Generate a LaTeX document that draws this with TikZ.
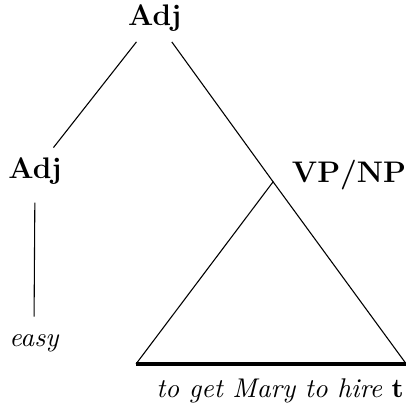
\documentclass[tikz,border=0pt]{standalone}
\usetikzlibrary{positioning}
\tikzset{
cat/.style={font=\fontsize{11}{13}\selectfont\bfseries, inner sep=3.5pt}, % category labels of the tree
word/.style={font=\itshape, inner sep=2pt}, % words at the leaves
branch/.style={line width=0.4pt}, % ordinary branches
base/.style={line width=1.2pt}, % thick base of the triangle
}

\begin{document}
\begin{tikzpicture}

\useasboundingbox (0,0) rectangle (5.27,5.23);

\node[cat] at (2.01, 4.99) (top) {Adj};
\node[cat] at (0.455, 3.01) (adj) {Adj};
\node[cat] at (4.53, 2.96) (vpnp) {VP/NP};
\node[word] at (0.44, 0.77) (easy) {easy};

\coordinate (apex) at (3.545, 2.87);
\coordinate (bl) at (1.766, 0.506);
\coordinate (br) at (5.273, 0.506);

\node[word] at (3.636, 0.15) (yield) {to get Mary to hire \textbf{\upshape t}};

\draw[branch] (top) -- (adj);
\draw[branch] (top) -- (apex);
\draw[branch, shorten <=3pt, shorten >=4.5pt] (adj) -- (easy);

\draw[branch] (bl) -- (apex) -- (br);
\draw[base] (bl) -- (br);

\end{tikzpicture}
\end{document}
